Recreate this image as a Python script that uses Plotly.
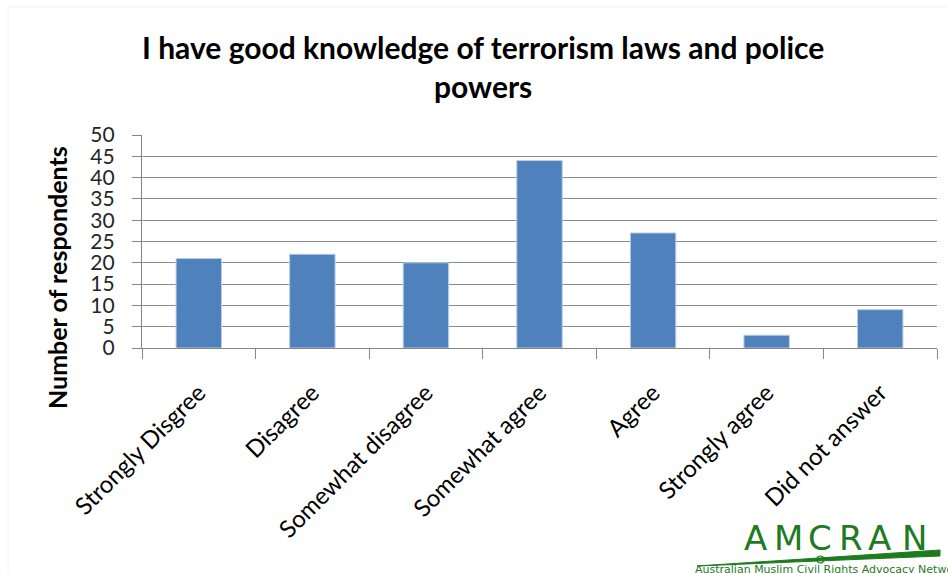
import plotly.graph_objects as go

# Survey responses
categories = ["Strongly Disgree", "Disagree", "Somewhat disagree", "Somewhat agree",
              "Agree", "Strongly agree", "Did not answer"]
respondents = [21, 22, 20, 44, 27, 3, 9]
y_ticks = [0, 5, 10, 15, 20, 25, 30, 35, 40, 45, 50]

W, H = 948, 573
L, R, T, B = 142, 11, 135, 225
PW, PH = W - L - R, H - T - B


def px(x):
    return (x - L) / PW


def py(y):
    return (H - B - y) / PH


fig = go.Figure(go.Bar(
    x=categories, y=respondents,
    marker=dict(color="#4F81BD", line=dict(color="#B9CDE5", width=1)),
    hoverinfo="x+y",
))

FONT = "Lato, Calibri, sans-serif"
AXIS = "#868686"

fig.update_layout(
    width=W, height=H,
    margin=dict(l=L, r=R, t=T, b=B),
    paper_bgcolor="white", plot_bgcolor="white",
    bargap=0.6, showlegend=False,
    font=dict(family=FONT, color="#404040"),
)

fig.update_xaxes(
    type="category", tickson="boundaries", ticks="outside", ticklen=10,
    tickcolor=AXIS, tickwidth=1.3,
    showline=True, linecolor=AXIS, linewidth=1.3,
    tickangle=-45, tickfont=dict(size=24, color="#000000", family=FONT),
    ticklabelstandoff=20,
    showgrid=False,
)
fig.update_yaxes(
    range=[0, 50], tickvals=y_ticks, ticks="outside", ticklen=9,
    tickcolor=AXIS, tickwidth=1.3, showline=True, linecolor=AXIS, linewidth=1.3,
    showgrid=True, gridcolor="#8C8C8C", gridwidth=1.3,
    tickfont=dict(size=21, color="#262626", family=FONT),
    ticklabelstandoff=13,
    zeroline=False,
)

# chart title and y-axis title
fig.add_annotation(
    text="<b>I have good knowledge of terrorism laws and police<br>powers</b>",
    xref="paper", yref="paper", x=px(483), y=py(66),
    xanchor="center", yanchor="middle", showarrow=False, align="center",
    font=dict(family=FONT, size=30, color="#000000"),
)
fig.add_annotation(
    text="<b>Number of respondents</b>", textangle=-90,
    xref="paper", yref="paper", x=px(57), y=py(278),
    xanchor="center", yanchor="middle", showarrow=False,
    font=dict(family=FONT, size=25, color="#000000"),
)

# faint chart border
fig.add_shape(type="rect", xref="paper", yref="paper",
              x0=px(8), x1=px(W + 5), y0=py(H + 5), y1=py(7),
              line=dict(color="#F2F2F2", width=1), layer="below")

# AMCRAN logo
green = "#1E7B1E"
letters = "AMCRAN"
letter_x = [755, 788, 820, 851, 879, 914]
for ch, lx in zip(letters, letter_x):
    fig.add_annotation(text=ch, xref="paper", yref="paper", x=px(lx), y=py(538),
                       xanchor="center", yanchor="middle", showarrow=False,
                       font=dict(family="DejaVu Sans", size=34, color=green))
fig.add_shape(type="path", xref="paper", yref="paper",
              path=f"M {px(697)} {py(566)} L {px(940)} {py(550)} L {px(940)} {py(556)} Z",
              fillcolor=green, line=dict(color=green, width=1))
fig.add_shape(type="circle", xref="paper", yref="paper",
              x0=px(817), x1=px(824), y0=py(563), y1=py(556),
              line=dict(color=green, width=1.2))
fig.add_annotation(text="Australian Muslim Civil Rights Advocacy Network",
                   xref="paper", yref="paper", x=px(693), y=py(569),
                   xanchor="left", yanchor="middle", showarrow=False,
                   font=dict(family="DejaVu Sans", size=11, color=green))

fig.write_html("out.html")
